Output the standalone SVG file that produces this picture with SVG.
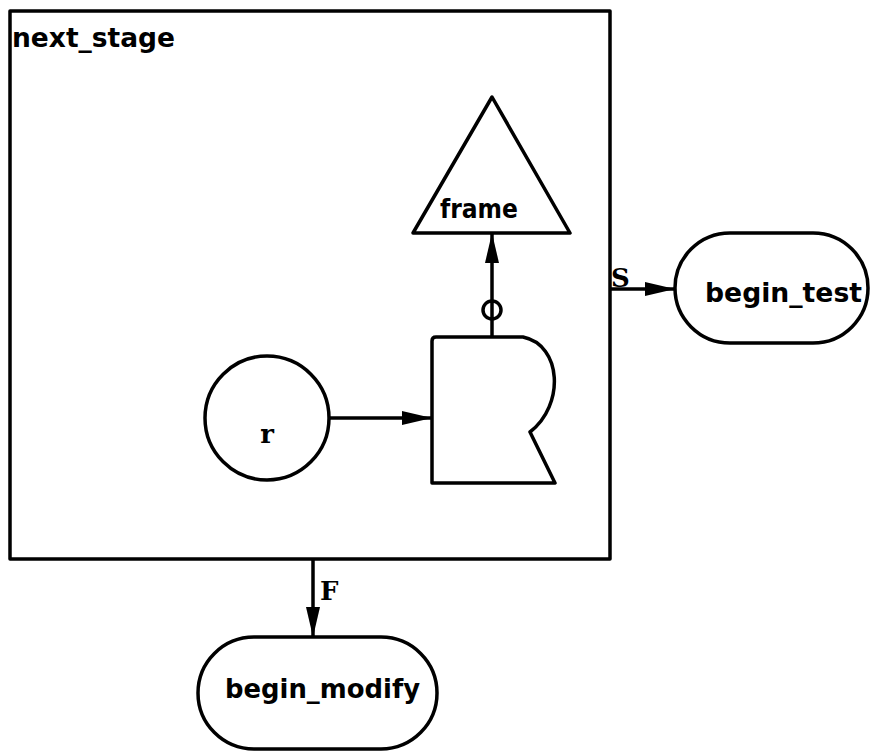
<svg xmlns="http://www.w3.org/2000/svg" width="874" height="752" viewBox="0 0 874 752">
<style>
.ln{fill:none;stroke:#000;stroke-width:3.5;stroke-linejoin:round}
.sh{fill:#fff;stroke:#000;stroke-width:3.5;stroke-linejoin:round}
.t{font-family:"DejaVu Sans","Liberation Sans",sans-serif;font-size:26px;font-weight:bold;fill:#000}
.lb{font-family:"DejaVu Serif","Liberation Serif",serif;font-size:26px;font-weight:bold;fill:#000}
</style>
<defs>
<marker id="ahL" markerWidth="30" markerHeight="14" refX="30" refY="7" orient="auto" markerUnits="userSpaceOnUse" viewBox="0 0 30 14">
<path d="M0,0 L30,7 L0,14 Z" fill="#000"/>
</marker>
</defs>
<rect width="874" height="752" fill="#fff"/>
<g id="next_stage">
<rect class="sh" x="10" y="11" width="600" height="548"/>
<text class="t" x="12" y="47" textLength="163" lengthAdjust="spacingAndGlyphs">next_stage</text>
</g>
<g id="frame">
<polygon class="sh" points="492,97 570,233 413,233"/>
<text class="t" x="440" y="218" textLength="78" lengthAdjust="spacingAndGlyphs">frame</text>
</g>
<g id="r">
<circle class="sh" cx="267" cy="418" r="62"/>
<text class="lb" x="267" y="443" text-anchor="middle">r</text>
</g>
<g id="store">
<path class="sh" d="M436,337 L523,337 C562,345 565,405 530,432 L555,483 L432,483 L432,341 Q432,337 436,337 Z"/>
</g>
<g id="begin_test">
<rect class="sh" x="675" y="233" width="193" height="110" rx="55" ry="55"/>
<text class="t" x="705" y="302" textLength="157" lengthAdjust="spacingAndGlyphs">begin_test</text>
</g>
<g id="begin_modify">
<rect class="sh" x="198" y="637" width="239" height="112" rx="56" ry="56"/>
<text class="t" x="225" y="698" textLength="195" lengthAdjust="spacingAndGlyphs">begin_modify</text>
</g>
<g id="connectors">
<line class="ln" x1="330" y1="418" x2="432" y2="418" marker-end="url(#ahL)"/>
<line class="ln" x1="492" y1="337" x2="492" y2="233" marker-end="url(#ahL)"/>
<circle class="ln" cx="492" cy="310" r="9"/>
<line class="ln" x1="610" y1="289" x2="675" y2="289" marker-end="url(#ahL)"/>
<text class="lb" x="611" y="287">S</text>
<line class="ln" x1="313" y1="559" x2="313" y2="637" marker-end="url(#ahL)"/>
<text class="lb" x="320" y="600">F</text>
</g>
</svg>
